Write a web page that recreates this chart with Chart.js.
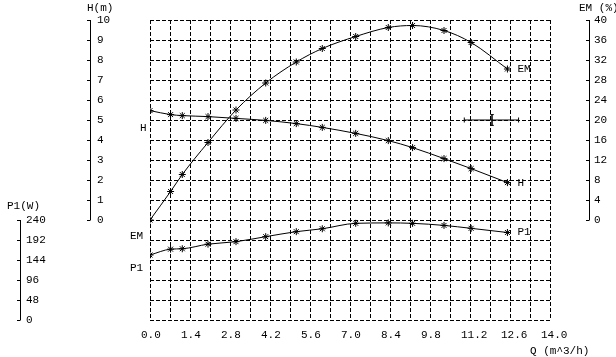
<!DOCTYPE html>
<html><head><meta charset="utf-8">
<script src="https://cdn.jsdelivr.net/npm/chart.js@4.4.1/dist/chart.umd.min.js"></script>
<style>html,body{margin:0;padding:0;background:#fff;}#wrap{width:616px;height:357px;}</style>
</head><body><div id="wrap"><canvas id="c" width="616" height="357"></canvas></div>
<script>
// ---- data ----
const flowQ   = [0, 0.72, 1.13, 2.03, 3.01, 4.05, 5.12, 6.03, 7.2, 8.34, 9.19, 10.29, 11.24, 12.51];
const headH   = [5.47, 5.27, 5.22, 5.17, 5.08, 4.98, 4.82, 4.63, 4.33, 3.97, 3.62, 3.07, 2.57, 1.87];
const effEM   = [0, 5.7, 9.1, 15.5, 22.0, 27.4, 31.6, 34.3, 36.7, 38.5, 38.9, 37.9, 35.5, 30.2];
const powerP1 = [156, 170, 171, 182, 188, 200, 212, 219, 232, 233, 232, 227, 220, 210];
const qTickLabels  = ["0.0","1.4","2.8","4.2","5.6","7.0","8.4","9.8","11.2","12.6","14.0"];
const hTickLabels  = [0,1,2,3,4,5,6,7,8,9,10];
const emTickLabels = [0,4,8,12,16,20,24,28,32,36,40];
const p1TickLabels = [0,48,96,144,192,240];
const dutyQ = [11.0, 12.9];
const dutyH = [5, 5];
const dutyMarkQ = [11.97, 11.97];
const dutyMarkH = [5.27, 4.73];

const FONT = "11px 'Liberation Mono', 'DejaVu Sans Mono', monospace";

function pts(xs, ys){ return xs.map((x,i)=>({x:x, y:ys[i]})); }

const framePlugin = {
  id: 'frame',
  beforeDatasetsDraw(chart){
    const ctx = chart.ctx, xs = chart.scales.x, ys = chart.scales.yH;
    ctx.save();
    ctx.strokeStyle = '#000'; ctx.lineWidth = 1; ctx.setLineDash([4,2]);
    const top = ys.getPixelForValue(10), bot = ys.getPixelForValue(-5);
    const left = xs.getPixelForValue(0), right = xs.getPixelForValue(14);
    for (let i=0;i<=20;i++){
      const px = Math.round(xs.getPixelForValue(i*0.7))+0.5;
      ctx.beginPath(); ctx.moveTo(px, top); ctx.lineTo(px, bot); ctx.stroke();
    }
    for (let j=-5;j<=10;j++){
      const py = Math.round(ys.getPixelForValue(j))+0.5;
      ctx.beginPath(); ctx.moveTo(left, py); ctx.lineTo(right, py); ctx.stroke();
    }
    ctx.restore();
  },
  afterDraw(chart){
    const ctx = chart.ctx, xs = chart.scales.x;
    ctx.save();
    ctx.fillStyle = '#000'; ctx.strokeStyle = '#000'; ctx.lineWidth = 1; ctx.setLineDash([]);
    ctx.font = FONT;
    ctx.textBaseline = 'middle'; ctx.textAlign = 'left';
    qTickLabels.forEach(l=>{
      const px = xs.getPixelForValue(parseFloat(l));
      ctx.fillText(l, px-9, 335);
    });
    ctx.fillText('Q (m^3/h)', 530, 351);
    function axis(scale, ticks, ax, lblX){
      const y0 = Math.round(scale.getPixelForValue(ticks[0]));
      const y1 = Math.round(scale.getPixelForValue(ticks[ticks.length-1]));
      ctx.beginPath(); ctx.moveTo(ax+0.5, y0); ctx.lineTo(ax+0.5, y1); ctx.stroke();
      ticks.forEach(t=>{
        const py = Math.round(scale.getPixelForValue(t))+0.5;
        ctx.beginPath(); ctx.moveTo(ax-3, py); ctx.lineTo(ax+0.5, py); ctx.stroke();
        ctx.fillText(String(t), lblX, py);
      });
    }
    axis(chart.scales.yH, hTickLabels, 90, 97);
    axis(chart.scales.yEM, emTickLabels, 589, 594);
    axis(chart.scales.yP1, p1TickLabels, 20, 26);
    ctx.fillText('H(m)', 87, 8);
    ctx.fillText('EM (%)', 579, 8);
    ctx.fillText('P1(W)', 7, 206);
    const yH = chart.scales.yH;
    ctx.fillText('H', 140, 128);
    ctx.fillText('EM', 130, 236);
    ctx.fillText('P1', 130, 268);
    const lx = xs.getPixelForValue(flowQ[flowQ.length-1]) + 10;
    ctx.fillText('EM', lx, chart.scales.yEM.getPixelForValue(effEM[effEM.length-1]));
    ctx.fillText('H', lx, yH.getPixelForValue(headH[headH.length-1]));
    ctx.fillText('P1', lx, chart.scales.yP1.getPixelForValue(powerP1[powerP1.length-1]));
    ctx.restore();
  }
};

const curveStyle = {
  borderColor:'#000', borderWidth:1, pointStyle:'star', pointRadius:3.5,
  pointBorderColor:'#000', pointBorderWidth:1, cubicInterpolationMode:'monotone', fill:false
};

new Chart(document.getElementById('c'), {
  type:'line',
  data:{ datasets:[
    Object.assign({label:'H', data:pts(flowQ, headH), yAxisID:'yH'}, curveStyle),
    Object.assign({label:'EM', data:pts(flowQ, effEM), yAxisID:'yEM'}, curveStyle),
    Object.assign({label:'P1', data:pts(flowQ, powerP1), yAxisID:'yP1'}, curveStyle),
    {label:'duty', data:pts(dutyQ, dutyH), yAxisID:'yH', borderColor:'#000', borderWidth:1,
     pointStyle:'line', rotation:90, pointRadius:2.5, pointBorderColor:'#000', pointBorderWidth:1},
    {label:'dutyMark', data:pts(dutyMarkQ, dutyMarkH), yAxisID:'yH', borderColor:'#000', borderWidth:1.5,
     pointStyle:'line', rotation:0, pointRadius:1.8, pointBorderColor:'#000', pointBorderWidth:1}
  ]},
  options:{
    responsive:false, animation:false, devicePixelRatio:1,
    layout:{ padding:{ left:150, right:66, top:20, bottom:37 } },
    plugins:{ legend:{display:false}, tooltip:{enabled:false} },
    scales:{
      x:{ type:'linear', min:0, max:14, display:false },
      yH:{ type:'linear', min:-5, max:10, display:false },
      yEM:{ type:'linear', min:-20, max:40, display:false },
      yP1:{ type:'linear', min:0, max:720, display:false }
    }
  },
  plugins:[framePlugin]
});
</script></body></html>
